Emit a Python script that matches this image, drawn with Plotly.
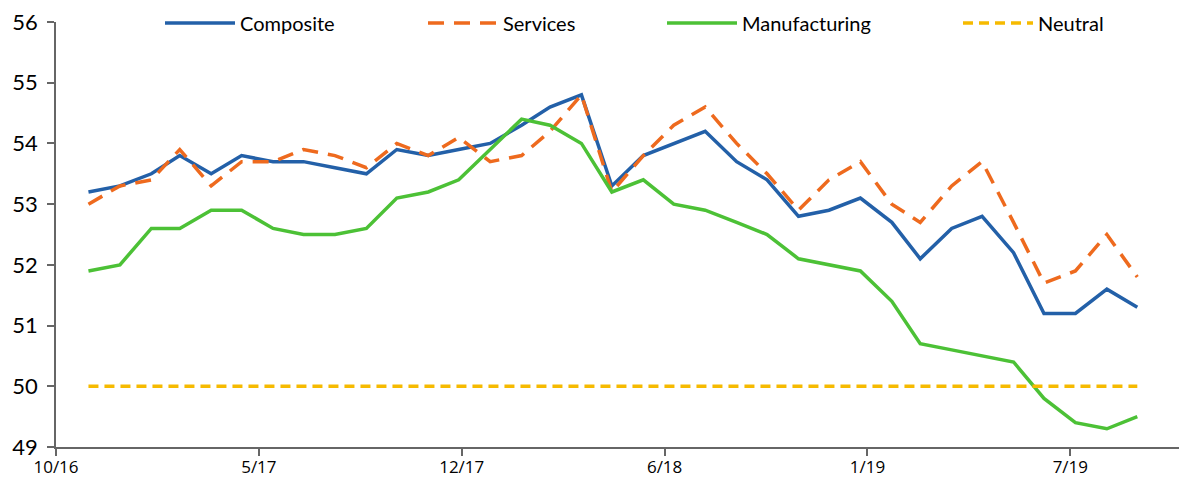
import pandas as pd
import plotly.graph_objects as go

# Monthly PMI readings, Nov 2016 - Sep 2019
dates = pd.date_range("2016-11-30", periods=35, freq="ME")
composite = [53.2, 53.3, 53.5, 53.8, 53.5, 53.8, 53.7, 53.7, 53.6, 53.5,
             53.9, 53.8, 53.9, 54.0, 54.3, 54.6, 54.8, 53.3, 53.8, 54.0,
             54.2, 53.7, 53.4, 52.8, 52.9, 53.1, 52.7, 52.1, 52.6, 52.8,
             52.2, 51.2, 51.2, 51.6, 51.3]
services = [53.0, 53.3, 53.4, 53.9, 53.3, 53.7, 53.7, 53.9, 53.8, 53.6,
            54.0, 53.8, 54.1, 53.7, 53.8, 54.2, 54.8, 53.2, 53.8, 54.3,
            54.6, 54.0, 53.5, 52.9, 53.4, 53.7, 53.0, 52.7, 53.3, 53.7,
            52.7, 51.7, 51.9, 52.5, 51.8]
manufacturing = [51.9, 52.0, 52.6, 52.6, 52.9, 52.9, 52.6, 52.5, 52.5, 52.6,
                 53.1, 53.2, 53.4, 53.9, 54.4, 54.3, 54.0, 53.2, 53.4, 53.0,
                 52.9, 52.7, 52.5, 52.1, 52.0, 51.9, 51.4, 50.7, 50.6, 50.5,
                 50.4, 49.8, 49.4, 49.3, 49.5]
neutral = [50.0] * len(dates)

# Axis: date axis, ticks every 200 days
axis_start = pd.Timestamp("2016-10-29")
axis_end = pd.Timestamp("2019-11-18")
tick_labels = ["10/16", "5/17", "12/17", "6/18", "1/19", "7/19"]
tick_vals = [axis_start + pd.Timedelta(days=200 * i) for i in range(len(tick_labels))]

series = [
    ("Composite", composite, dict(color="#2360A8", width=3.5), "legend"),
    ("Services", services, dict(color="#EE6A1E", width=3.5, dash="16px,10px"), "legend2"),
    ("Manufacturing", manufacturing, dict(color="#4CC136", width=3.5), "legend3"),
    ("Neutral", neutral, dict(color="#F6BA00", width=3.5, dash="10px,6px"), "legend4"),
]

fig = go.Figure()
for name, vals, line, leg in series:
    fig.add_trace(go.Scatter(x=dates, y=vals, mode="lines", name=name,
                             line=line, legend=leg, showlegend=True))

# The page body adds an 8px offset; margins compensate for it
W, H = 1187, 481
ml, mr, mt, mb = 48, 8, 14, 42

legend_font = dict(family="Lato, sans-serif", size=20, color="#000000")
def leg(px):
    return dict(x=px / W, xref="container", y=1 - 15 / H, yref="container",
                xanchor="left", yanchor="middle",
                orientation="h", font=legend_font, itemwidth=70,
                bgcolor="rgba(0,0,0,0)", borderwidth=0)

fig.update_layout(
    width=W, height=H, showlegend=True,
    margin=dict(l=ml, r=mr, t=mt, b=mb, autoexpand=False),
    plot_bgcolor="white", paper_bgcolor="white",
    legend=leg(152), legend2=leg(415), legend3=leg(654), legend4=leg(950),
    xaxis=dict(
        type="date", range=[axis_start, axis_end], automargin=False,
        tickmode="array", tickvals=tick_vals, ticktext=tick_labels,
        showgrid=False, zeroline=False,
        showline=True, linecolor="#666666", linewidth=1.5,
        ticks="outside", ticklen=7, tickwidth=1.5, tickcolor="#666666",
        tickfont=dict(family="Open Sans, sans-serif", size=17, color="#000000"),
        ticklabelstandoff=-3, ticklabeloverflow="allow",
    ),
    yaxis=dict(
        range=[49, 56], dtick=1, tick0=49, automargin=False,
        showgrid=False, zeroline=False,
        showline=True, linecolor="#666666", linewidth=1.5,
        ticks="outside", ticklen=7, tickwidth=1.5, tickcolor="#666666",
        tickfont=dict(family="Lato, sans-serif", size=22, color="#000000"),
        ticklabelstandoff=5, ticklabeloverflow="allow",
    ),
)

fig.write_html("out.html")
